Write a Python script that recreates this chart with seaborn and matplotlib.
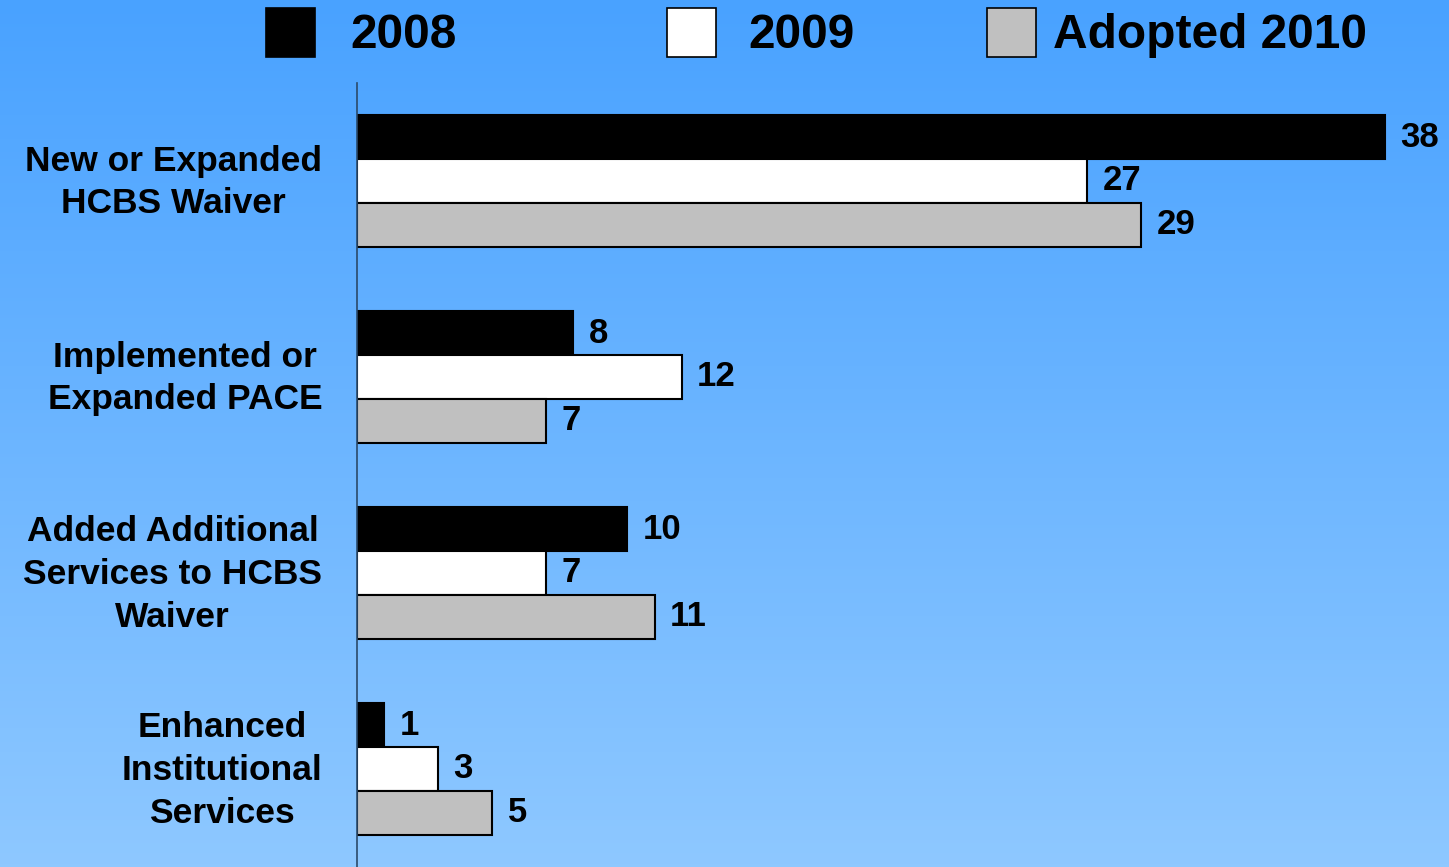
import numpy as np
import pandas as pd
import matplotlib
matplotlib.use("Agg")
import matplotlib.pyplot as plt
import matplotlib.transforms as mtransforms
from matplotlib.patches import Rectangle
from matplotlib.colors import LinearSegmentedColormap
import seaborn as sns

categories = ["New or Expanded\nHCBS Waiver",
              "Implemented or\nExpanded PACE",
              "Added Additional\nServices to HCBS\nWaiver",
              "Enhanced\nInstitutional\nServices"]
series_names = ["2008", "2009", "Adopted 2010"]
values_2008 = [38, 8, 10, 1]
values_2009 = [27, 12, 7, 3]
values_2010 = [29, 7, 11, 5]
colors = ["#000000", "#ffffff", "#c0c0c0"]

rows = []
for name, vals in zip(series_names, [values_2008, values_2009, values_2010]):
    for c, v in zip(categories, vals):
        rows.append({"category": c, "year": name, "value": v})
df = pd.DataFrame(rows)

sns.set_style("white")
plt.rcParams["font.family"] = ["Liberation Sans", "DejaVu Sans"]
plt.rcParams["font.weight"] = "bold"
plt.rcParams["text.color"] = "black"
plt.rcParams["ytick.color"] = "black"

W, H = 1449, 867
fig = plt.figure(figsize=(W / 100, H / 100), dpi=100)

# gradient background
bg = fig.add_axes([0, 0, 1, 1], zorder=-10)
cmap = LinearSegmentedColormap.from_list("bg", ["#49a2ff", "#8ec8ff"])
grad = np.linspace(0, 1, 256).reshape(-1, 1)
bg.imshow(grad, aspect="auto", cmap=cmap, extent=[0, 1, 0, 1], origin="upper")
bg.set_axis_off()

ax = fig.add_axes([357 / W, 0, 1 - 357 / W, 784 / H])
ax.patch.set_alpha(0)
sns.barplot(data=df, x="value", y="category", hue="year", orient="h",
            palette=colors, hue_order=series_names, order=categories,
            width=0.67, edgecolor="black", linewidth=1.5, ax=ax,
            legend=False, saturation=1)

for cont in ax.containers:
    ax.bar_label(cont, padding=11, fontsize=25, fontweight="bold", color="black")

ax.set_xlim(0, 40.37)
ax.set_ylim(3.5, -0.5)
ax.set_xlabel("")
ax.set_ylabel("")
ax.set_xticks([])
ax.tick_params(axis="y", length=0, pad=25, colors="black")
ax.set_yticks(range(len(categories)))
ax.set_yticklabels(categories, fontsize=25.5, fontweight="bold", color="black",
                   ha="right", multialignment="center", linespacing=1.38)
shift = mtransforms.ScaledTranslation(0, 7 / 100, fig.dpi_scale_trans)
for lab in ax.get_yticklabels():
    lab.set_transform(lab.get_transform() + shift)
for s in ["top", "right", "bottom"]:
    ax.spines[s].set_visible(False)
ax.spines["left"].set_color("#2b4a6a")
ax.spines["left"].set_linewidth(1.2)

# legend
leg_x = [266, 667, 987]
txt_x = [350, 748, 1053]
for lx, tx, name, col in zip(leg_x, txt_x, series_names, colors):
    fig.patches.append(Rectangle((lx / W, 1 - 57 / H), 49 / W, 49 / H,
                                 transform=fig.transFigure, facecolor=col,
                                 edgecolor="black", linewidth=1.2))
    fig.text(tx / W, 1 - 35 / H, name, fontsize=34.5, fontweight="bold",
             va="center", ha="left", color="black")

fig.savefig("out.png", dpi=100)
